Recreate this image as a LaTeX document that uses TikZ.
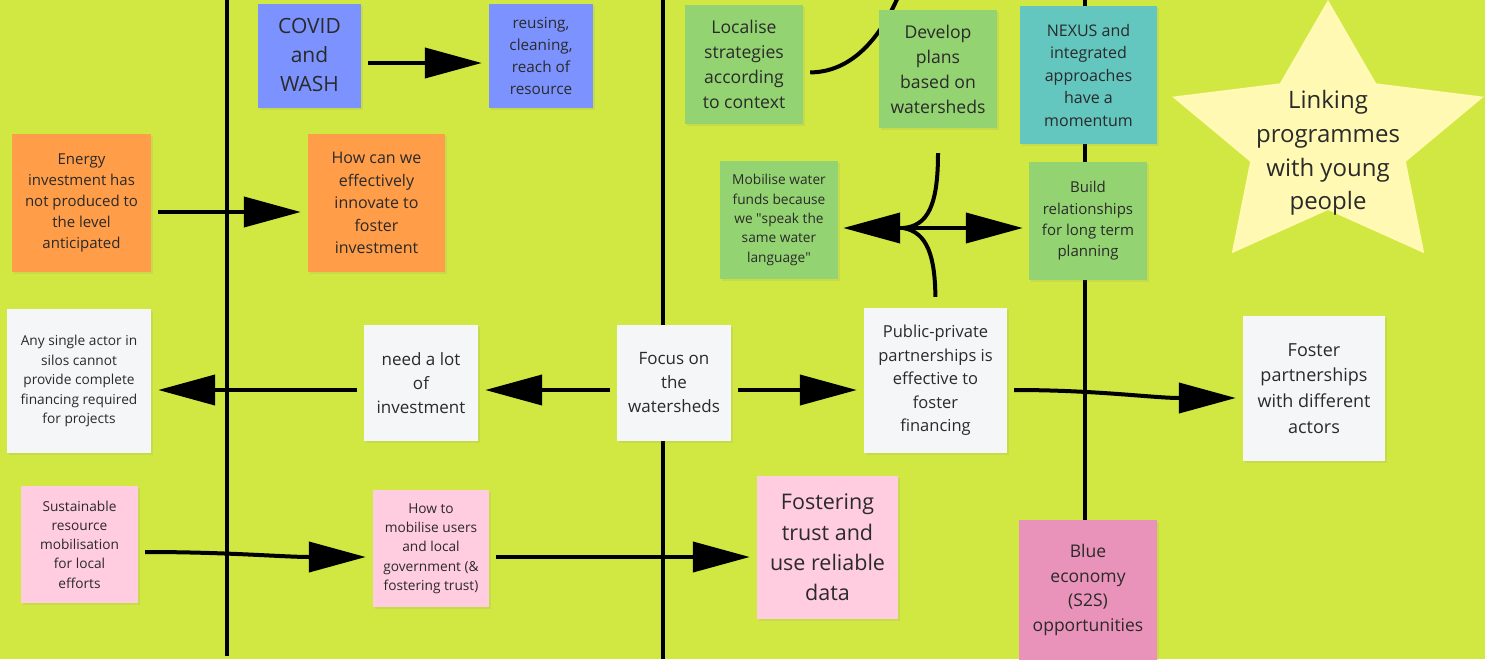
\documentclass[tikz,border=0pt]{standalone}
\usepackage{fontspec}
\setmainfont{Open Sans}
\usetikzlibrary{arrows.meta,shadows}
\definecolor{board}{HTML}{D1E843}
\definecolor{bluenote}{HTML}{7C93FF}
\definecolor{orangenote}{HTML}{FF9D48}
\definecolor{whitenote}{HTML}{F5F6F8}
\definecolor{pinknote}{HTML}{FFCCE0}
\definecolor{greennote}{HTML}{94D371}
\definecolor{tealnote}{HTML}{63C6BF}
\definecolor{rosenote}{HTML}{EA93BA}
\definecolor{starnote}{HTML}{FFF9B3}
\definecolor{ink}{HTML}{2A2A2A}
\tikzset{
  sticky/.style={inner sep=0pt, align=center, text=ink,
    drop shadow={shadow xshift=1.5pt, shadow yshift=-2pt, opacity=.12}},
  link/.style={line width=4pt, -{Triangle[length=57pt,width=30pt]},
    shorten <=7pt, shorten >=7pt},
  divider/.style={line width=3.5pt},
}
\newcommand{\fs}[2]{\fontsize{#1}{#2}\selectfont}
\begin{document}
\begin{tikzpicture}[x=1pt, y=-1pt, line join=round]
	\useasboundingbox (0,0) rectangle (1485,659);
	\clip (0,0) rectangle (1485,659);
	\fill[board] (0,0) rectangle (1485,659);
	% dividers
	\draw[divider] (227,0) -- (227,656);
	\draw[divider] (663,0) -- (663,659);
	\draw[divider] (1085,0) -- (1085,520);
	% star
	\fill[starnote, shift={(1328,140)}, xscale=1.17] (-90:140)
		\foreach \i in {1,...,9} {-- ({-90+36*\i}:{105+35*cos(180*\i)})} -- cycle;
	\node[align=center, text=ink, font=\fs{24}{33.7}] (star) at (1328,153) {Linking\\programmes\\with young\\people};
	% left column
	\node[sticky, fill=orangenote, minimum width=139, minimum height=138, font=\fs{15}{21}] (energy) at (81.5,203) {Energy\\investment has\\not produced to\\the level\\anticipated};
	\node[sticky, fill=whitenote, minimum width=144, minimum height=144, font=\fs{13.7}{19.5}] (single) at (79,381) {Any single actor in\\silos cannot\\provide complete\\financing required\\for projects};
	\node[sticky, fill=pinknote, minimum width=117, minimum height=117, font=\fs{13.7}{19.3}] (sustain) at (79.5,544.5) {Sustainable\\resource\\mobilisation\\for local\\efforts};
	% second column
	\node[sticky, fill=bluenote, minimum width=103, minimum height=104, font=\fs{21}{29}] (covid) at (309.5,56) {COVID\\and\\WASH\vspace{2pt}};
	\node[sticky, fill=bluenote, minimum width=104, minimum height=104, font=\fs{15.3}{21.7}] (reuse) at (541,56) {reusing,\\cleaning,\\reach of\\resource};
	\node[sticky, fill=orangenote, minimum width=137, minimum height=138, font=\fs{16}{22.5}] (innovate) at (376.5,203) {How can we\\effectively\\innovate to\\foster\\investment};
	\node[sticky, fill=whitenote, minimum width=114, minimum height=116, font=\fs{17}{24}] (need) at (421,383) {need a lot\\of\\investment};
	\node[sticky, fill=pinknote, minimum width=116, minimum height=117, font=\fs{13.7}{19.3}] (howto) at (431,548.5) {How to\\mobilise users\\and local\\government (\&\\fostering trust)};
	% third column
	\node[sticky, fill=whitenote, minimum width=114, minimum height=116, font=\fs{17}{24}] (focus) at (674,383) {Focus on\\the\\watersheds};
	\node[sticky, fill=greennote, minimum width=118, minimum height=119, font=\fs{17.6}{25}] (localise) at (744,64.5) {Localise\\strategies\\according\\to context};
	\coordinate (topend) at (898,-3);
	\draw[line width=4pt, shorten <=7pt] ([yshift=-8pt]localise.east) .. controls (852,72) and (880,38) .. (topend);
	\node[sticky, fill=greennote, minimum width=118, minimum height=118, font=\fs{17.6}{25}] (develop) at (938,69) {Develop\\plans\\based on\\watersheds};
	\node[sticky, fill=greennote, minimum width=118, minimum height=118, font=\fs{13.7}{19.3}] (funds) at (779,220) {Mobilise water\\funds because\\we \textquotedbl speak the\\same water\\language\textquotedbl};
	\node[sticky, fill=whitenote, minimum width=143, minimum height=145, font=\fs{16.5}{23.4}] (ppp) at (935.5,380.5) {Public-private\\partnerships is\\effective to\\foster\\financing};
	\node[sticky, fill=pinknote, minimum width=141, minimum height=143, font=\fs{21.5}{30.3}] (trust) at (827.5,547.5) {Fostering\\trust and\\use reliable\\data};
	% right column
	\node[sticky, fill=tealnote, minimum width=137, minimum height=138, font=\fs{16}{22.5}] (nexus) at (1088.5,75) {NEXUS and\\integrated\\approaches\\have a\\momentum};
	\node[sticky, fill=greennote, minimum width=118, minimum height=118, font=\fs{15}{21.3}] (build) at (1088,221) {Build\\relationships\\for long term\\planning};
	\node[sticky, fill=rosenote, minimum width=138, minimum height=140, font=\fs{17.5}{24.6}] (blue) at (1088,590) {Blue\\economy\\(S2S)\\opportunities};
	\node[sticky, fill=whitenote, minimum width=142, minimum height=145, font=\fs{18}{25.7}] (foster) at (1314,388.5) {Foster\\partnerships\\with different\\actors};
	% arrows
	\draw[link] ([yshift=-7pt]covid.east) -- ([yshift=-7pt]reuse.west);
	\draw[link] ([yshift=-9pt]energy.east) -- ([yshift=-9pt]innovate.west);
	\draw[link] ([yshift=-7pt]focus.west) -- ([yshift=-7pt]need.east);
	\draw[link] ([yshift=-7pt]need.west) -- ([yshift=-9pt]single.east);
	\draw[link] ([yshift=-7pt]focus.east) -- ([yshift=-9.5pt]ppp.west);
	\draw[link] ([yshift=-9.5pt]ppp.east) .. controls +(90,0) and +(-90,0) .. ([yshift=-9.5pt]foster.west);
	\draw[link] ([yshift=-7.5pt]sustain.east) .. controls +(90,0) and +(-90,0) .. ([yshift=-8.5pt]howto.west);
	\draw[link] ([yshift=-8.5pt]howto.east) -- ([yshift=-9.5pt]trust.west);
	% fork between the green notes
	\coordinate (fork) at (903,228);
	\draw[line width=4pt, shorten <=25pt] (develop.south) .. controls (938,205) and (928,226) .. (fork);
	\draw[line width=4pt, shorten >=11pt] (fork) .. controls (928,232) and (935,258) .. (ppp.north);
	\draw[link, shorten <=0pt, shorten >=5pt] (fork) -- ([yshift=-8pt]funds.east);
	\draw[link, shorten <=0pt, shorten >=6pt] (fork) -- ([yshift=-7pt]build.west);
\end{tikzpicture}
\end{document}
